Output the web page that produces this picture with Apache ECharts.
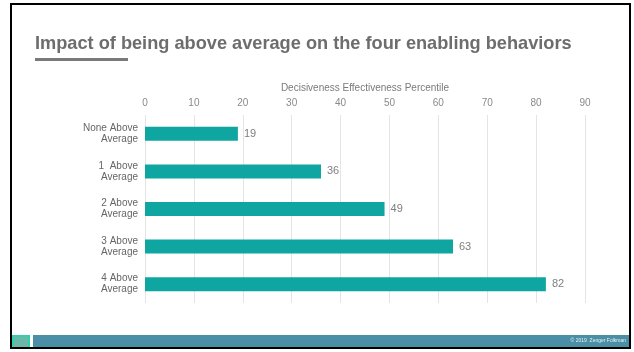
<!DOCTYPE html>
<html>
<head>
<meta charset="utf-8">
<script src="https://cdn.jsdelivr.net/npm/echarts@6/dist/echarts.min.js"></script>
<style>
  html, body { margin: 0; padding: 0; background: #ffffff; }
  #chart { width: 634px; height: 352px; }
</style>
</head>
<body>
<div id="chart"></div>
<script>
// Groups by how many of the four enabling behaviors are above average
const categories = ['None Above\nAverage', '1  Above\nAverage', '2 Above\nAverage', '3 Above\nAverage', '4 Above\nAverage'];
// Decisiveness effectiveness percentile per group
const percentiles = [19, 36, 49, 63, 82];
const axisTicks = { min: 0, max: 90, interval: 10 };

const chart = echarts.init(document.getElementById('chart'), null, { renderer: 'canvas' });

chart.setOption({
  backgroundColor: '#ffffff',
  animation: false,
  textStyle: { fontFamily: 'Liberation Sans, Arial, sans-serif' },
  grid: { left: 145, right: 49, top: 115, bottom: 49, containLabel: false },
  xAxis: {
    type: 'value',
    position: 'top',
    min: axisTicks.min,
    max: axisTicks.max,
    interval: axisTicks.interval,
    name: 'Decisiveness Effectiveness Percentile',
    nameLocation: 'middle',
    nameGap: 21,
    nameTextStyle: { color: '#7a7a7a', fontSize: 10 },
    axisLine: { show: false },
    axisTick: { show: false },
    axisLabel: { color: '#8a8a8a', fontSize: 10, margin: 7 },
    splitLine: { show: true, lineStyle: { color: '#e4e4e4', width: 1 } }
  },
  yAxis: {
    type: 'category',
    inverse: true,
    data: categories,
    axisLine: { show: false },
    axisTick: { show: false },
    axisLabel: { color: '#666666', fontSize: 10, lineHeight: 11, margin: 7, align: 'right' }
  },
  series: [{
    type: 'bar',
    data: percentiles,
    barWidth: 14,
    itemStyle: { color: '#0fa6a1' },
    label: {
      show: true,
      position: 'right',
      distance: 6,
      color: '#7f7f7f',
      fontSize: 11
    }
  }],
  graphic: [
    // slide frame
    { type: 'rect', shape: { x: 11, y: 4, width: 619, height: 344 }, style: { fill: 'none', stroke: '#000000', lineWidth: 2 }, z: 10 },
    // title and accent bar
    { type: 'text', left: 35, top: 35, style: { text: 'Impact of being above average on the four enabling behaviors', fill: '#6d6d6d', font: 'bold 18.2px Liberation Sans, Arial, sans-serif' } },
    { type: 'rect', shape: { x: 35, y: 58, width: 93, height: 3 }, style: { fill: '#7a7a7a' } },
    // footer band
    { type: 'rect', shape: { x: 33, y: 335, width: 597, height: 13 }, style: { fill: '#4a8fa5' } },
    { type: 'rect', shape: { x: 12, y: 335, width: 18, height: 13 }, style: { fill: '#2fd0b0' } },
    { type: 'rect', shape: { x: 14, y: 337, width: 14, height: 10 }, style: { fill: '#6cb8a8' } },
    { type: 'text', right: 8, top: 338, style: { text: '\u00a9 2019  Zenger Folkman', fill: '#e8f2f5', font: '5px Liberation Sans, Arial, sans-serif' } }
  ]
});
</script>
</body>
</html>
